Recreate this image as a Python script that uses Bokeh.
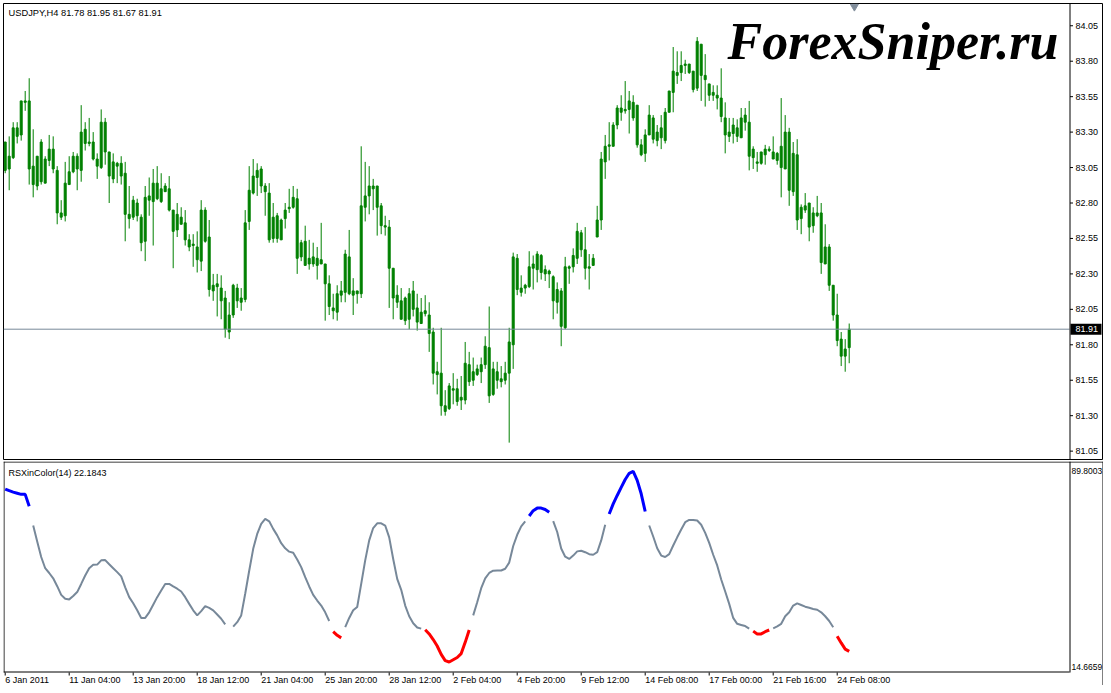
import numpy as np
from bokeh.plotting import figure
from bokeh.layouts import column
from bokeh.models import Range1d, Label, ColumnDataSource
from bokeh.embed import file_html
from bokeh.resources import INLINE
from bokeh.core.properties import value

# ---------------- data (USDJPY, H4) ----------------
open_ = [83.23, 83.04, 83.12, 83.27, 83.28, 83.52, 83.52, 82.93, 82.92, 83.23,
         82.94, 83.18, 83.18, 83.03, 82.70, 82.71, 82.93, 83.02, 83.04, 83.03,
         83.32, 83.23, 83.23, 83.06, 83.05, 83.37, 83.16, 82.97, 83.08, 83.08,
         83.01, 82.69, 82.82, 82.80, 82.52, 82.53, 82.82, 82.81, 82.94, 82.81,
         82.92, 82.90, 82.75, 82.61, 82.70, 82.66, 82.54, 82.51, 82.40, 82.39,
         82.75, 82.56, 82.18, 82.23, 82.20, 82.13, 81.89, 82.01, 82.20, 82.10,
         82.12, 82.67, 82.87, 83.03, 83.04, 82.92, 82.87, 82.70, 82.71, 82.54,
         82.69, 82.76, 82.84, 82.83, 82.52, 82.53, 82.37, 82.42, 82.36, 82.40,
         82.37, 82.23, 82.04, 82.03, 82.15, 82.17, 82.42, 82.18, 82.16, 82.16,
         82.77, 82.85, 82.92, 82.92, 82.78, 82.64, 82.63, 82.34, 82.15, 82.11,
         81.97, 81.98, 82.18, 82.06, 81.95, 82.04, 82.01, 81.89, 81.61, 81.60,
         81.33, 81.35, 81.49, 81.49, 81.41, 81.41, 81.66, 81.55, 81.59, 81.61,
         81.66, 81.78, 81.45, 81.61, 81.54, 81.55, 81.60, 81.80, 82.41, 82.17,
         82.20, 82.21, 82.34, 82.33, 82.43, 82.33, 82.32, 82.28, 82.19, 82.18,
         81.92, 82.34, 82.35, 82.41, 82.59, 82.47, 82.34, 82.36, 82.56, 82.68,
         83.09, 83.20, 83.20, 83.35, 83.47, 83.45, 83.46, 83.51, 83.49, 83.21,
         83.15, 83.28, 83.40, 83.24, 83.26, 83.24, 83.44, 83.58, 83.70, 83.72,
         83.77, 83.78, 83.73, 83.61, 83.92, 83.70, 83.64, 83.58, 83.56, 83.54,
         83.40, 83.27, 83.29, 83.33, 83.26, 83.37, 83.37, 83.18, 83.09, 83.08,
         83.14, 83.17, 83.16, 83.10, 83.05, 83.04, 83.30, 82.88, 83.14, 82.69,
         82.75, 82.80, 82.64, 82.73, 82.73, 82.37, 82.49, 82.22, 82.01, 81.84,
         81.72, 81.78]
high = [83.23, 83.27, 83.37, 83.37, 83.52, 83.59, 83.68, 83.32, 83.13, 83.25,
        83.13, 83.28, 83.27, 83.06, 82.82, 83.09, 83.13, 83.16, 83.15, 83.49,
        83.37, 83.40, 83.30, 83.15, 83.46, 83.40, 83.16, 83.15, 83.09, 83.13,
        83.09, 82.92, 82.85, 82.83, 82.72, 82.92, 82.98, 83.04, 83.06, 83.01,
        82.94, 82.99, 82.75, 82.80, 82.77, 82.75, 82.58, 82.58, 82.60, 82.82,
        82.77, 82.68, 82.30, 82.30, 82.29, 82.18, 82.10, 82.23, 82.23, 82.20,
        82.75, 83.06, 83.11, 83.08, 83.06, 82.94, 82.94, 82.80, 82.73, 82.69,
        82.80, 82.90, 82.92, 82.90, 82.54, 82.64, 82.54, 82.52, 82.49, 82.66,
        82.37, 82.29, 82.16, 82.22, 82.25, 82.47, 82.61, 82.27, 82.18, 83.20,
        83.09, 83.06, 82.97, 82.92, 82.80, 82.71, 82.68, 82.34, 82.22, 82.20,
        82.14, 82.20, 82.25, 82.16, 82.13, 82.15, 82.10, 81.92, 81.68, 81.92,
        81.48, 81.53, 81.60, 81.56, 81.58, 81.82, 81.75, 81.71, 81.66, 81.71,
        81.86, 82.07, 81.68, 81.68, 81.65, 81.68, 81.92, 82.45, 82.44, 82.29,
        82.23, 82.46, 82.43, 82.46, 82.44, 82.36, 82.33, 82.29, 82.24, 82.20,
        82.42, 82.36, 82.48, 82.66, 82.61, 82.63, 82.44, 82.44, 82.78, 83.16,
        83.28, 83.37, 83.37, 83.49, 83.56, 83.66, 83.59, 83.56, 83.49, 83.25,
        83.32, 83.49, 83.42, 83.35, 83.42, 83.47, 83.59, 83.90, 83.87, 83.87,
        83.81, 83.78, 83.73, 83.97, 83.92, 83.85, 83.64, 83.63, 83.63, 83.75,
        83.51, 83.40, 83.40, 83.39, 83.47, 83.47, 83.52, 83.20, 83.16, 83.16,
        83.21, 83.20, 83.27, 83.16, 83.54, 83.42, 83.33, 83.23, 83.25, 82.79,
        82.87, 82.80, 82.77, 82.85, 82.80, 82.65, 82.51, 82.22, 82.16, 81.89,
        81.84, 81.95]
low = [83.01, 82.89, 83.11, 83.22, 83.24, 83.45, 82.93, 82.84, 82.89, 82.93,
       82.94, 83.06, 83.01, 82.65, 82.68, 82.67, 82.93, 83.01, 82.89, 82.95,
       83.17, 83.20, 83.10, 82.97, 83.04, 83.07, 82.80, 82.94, 82.94, 82.93,
       82.53, 82.62, 82.68, 82.67, 82.46, 82.39, 82.71, 82.50, 82.82, 82.80,
       82.88, 82.74, 82.34, 82.56, 82.65, 82.50, 82.46, 82.35, 82.31, 82.32,
       82.52, 82.14, 82.11, 82.00, 81.98, 81.85, 81.84, 81.99, 82.06, 82.04,
       82.10, 82.61, 82.86, 82.85, 82.87, 82.71, 82.52, 82.52, 82.52, 82.54,
       82.62, 82.73, 82.76, 82.30, 82.39, 82.36, 82.33, 82.35, 82.26, 82.37,
       81.97, 82.01, 81.98, 81.97, 82.10, 82.10, 82.15, 82.01, 82.09, 82.13,
       82.67, 82.72, 82.75, 82.57, 82.58, 82.57, 82.06, 81.98, 82.06, 81.98,
       81.94, 81.91, 82.00, 81.90, 81.95, 82.00, 81.75, 81.52, 81.45, 81.30,
       81.30, 81.34, 81.38, 81.37, 81.34, 81.38, 81.51, 81.51, 81.58, 81.53,
       81.63, 81.39, 81.44, 81.49, 81.50, 81.52, 81.11, 81.63, 82.15, 82.14,
       82.16, 82.20, 82.19, 82.24, 82.26, 82.25, 82.20, 81.98, 82.02, 81.79,
       81.91, 82.23, 82.31, 82.37, 82.42, 82.26, 82.19, 82.36, 82.56, 82.61,
       82.97, 83.10, 83.20, 83.32, 83.38, 83.43, 83.29, 83.38, 83.19, 83.13,
       83.09, 83.28, 83.22, 83.20, 83.18, 83.22, 83.44, 83.44, 83.64, 83.66,
       83.71, 83.71, 83.58, 83.59, 83.52, 83.48, 83.52, 83.52, 83.46, 83.37,
       83.15, 83.23, 83.22, 83.23, 83.26, 83.31, 83.03, 83.04, 83.02, 83.07,
       83.07, 83.16, 83.11, 83.07, 82.84, 83.04, 82.78, 82.85, 82.61, 82.58,
       82.73, 82.53, 82.59, 82.70, 82.30, 82.37, 82.18, 81.97, 81.79, 81.65,
       81.61, 81.67]
close = [83.03, 83.13, 83.33, 83.33, 83.52, 83.51, 83.04, 83.06, 83.13, 82.95,
         83.11, 83.10, 83.04, 82.73, 82.73, 82.94, 83.02, 83.13, 83.13, 83.30,
         83.22, 83.22, 83.11, 83.11, 83.37, 83.16, 82.99, 83.09, 83.06, 82.99,
         82.72, 82.72, 82.70, 82.71, 82.70, 82.84, 82.85, 82.94, 82.83, 82.90,
         82.88, 82.75, 82.60, 82.72, 82.65, 82.54, 82.49, 82.50, 82.49, 82.75,
         82.53, 82.19, 82.22, 82.21, 82.11, 81.91, 82.01, 82.22, 82.11, 82.13,
         82.66, 82.89, 82.99, 82.98, 82.92, 82.88, 82.54, 82.55, 82.55, 82.68,
         82.75, 82.77, 82.77, 82.41, 82.42, 82.36, 82.41, 82.37, 82.41, 82.37,
         82.23, 82.07, 82.06, 82.16, 82.18, 82.44, 82.16, 82.15, 82.18, 82.78,
         82.85, 82.92, 82.90, 82.77, 82.64, 82.63, 82.34, 82.13, 82.10, 81.98,
         82.13, 82.16, 82.05, 81.96, 82.03, 82.02, 81.88, 81.60, 81.59, 81.37,
         81.37, 81.51, 81.48, 81.40, 81.43, 81.67, 81.54, 81.61, 81.63, 81.66,
         81.79, 81.44, 81.63, 81.55, 81.56, 81.60, 81.82, 82.42, 82.19, 82.20,
         82.22, 82.35, 82.37, 82.44, 82.31, 82.30, 82.30, 82.11, 82.10, 81.93,
         82.35, 82.35, 82.43, 82.60, 82.47, 82.34, 82.35, 82.41, 82.68, 83.11,
         83.20, 83.21, 83.35, 83.47, 83.44, 83.46, 83.52, 83.40, 83.21, 83.14,
         83.28, 83.42, 83.25, 83.30, 83.33, 83.44, 83.59, 83.73, 83.72, 83.77,
         83.78, 83.72, 83.60, 83.94, 83.70, 83.67, 83.56, 83.56, 83.54, 83.41,
         83.28, 83.30, 83.35, 83.27, 83.40, 83.42, 83.13, 83.12, 83.08, 83.16,
         83.18, 83.18, 83.11, 83.15, 83.20, 83.30, 82.89, 83.15, 82.68, 82.77,
         82.78, 82.63, 82.73, 82.71, 82.38, 82.49, 82.22, 82.01, 81.83, 81.72,
         81.77, 81.91]

# RSXinColor(14) values, one per bar
rsx = [80.0, 79.4, 78.9, 78.5, 78.1, 78.1, 73.9, 67.0, 61.3, 55.8,
       51.8, 50.1, 48.2, 45.4, 42.3, 40.9, 40.7, 41.9, 43.3, 46.2,
       49.2, 51.8, 53.0, 53.1, 54.6, 54.7, 53.2, 51.8, 50.4, 48.9,
       45.0, 41.5, 39.3, 36.8, 34.1, 34.1, 36.1, 38.8, 41.5, 43.9,
       46.2, 46.2, 45.3, 44.5, 43.5, 41.5, 39.1, 36.8, 35.0, 36.5,
       38.3, 37.7, 36.8, 35.3, 33.8, 31.8, 29.8, 31.0, 32.6, 35.0,
       42.7, 50.9, 58.7, 64.0, 67.6, 69.4, 68.5, 65.8, 63.5, 60.7,
       58.9, 57.7, 57.3, 54.9, 52.2, 48.6, 45.3, 42.3, 40.3, 38.5,
       36.1, 33.0, 29.2, 27.9, 27.0, 30.8, 34.1, 36.8, 38.0, 46.2,
       54.6, 61.7, 66.1, 67.8, 67.8, 67.0, 62.8, 55.1, 48.0, 44.1,
       38.5, 34.7, 32.2, 30.7, 30.3, 29.9, 28.4, 26.4, 24.1, 21.1,
       18.9, 18.4, 19.2, 20.0, 21.4, 25.4, 29.8, 35.0, 39.7, 44.7,
       48.2, 50.1, 50.9, 51.0, 51.0, 51.6, 53.8, 59.7, 63.7, 66.7,
       68.5, 70.4, 72.3, 73.2, 73.2, 72.7, 71.7, 68.6, 64.7, 58.8,
       55.9, 55.1, 56.3, 57.8, 58.0, 57.5, 56.8, 56.6, 57.5, 61.7,
       67.3, 71.1, 74.7, 77.7, 80.6, 83.4, 85.6, 86.3, 83.1, 78.3,
       72.0, 67.0, 63.1, 58.9, 56.3, 55.8, 56.8, 59.9, 62.8, 65.6,
       68.2, 69.0, 69.0, 68.8, 67.3, 64.4, 60.8, 56.6, 52.8, 47.8,
       43.5, 39.1, 34.1, 32.0, 31.6, 31.2, 30.3, 29.4, 28.4, 28.4,
       29.2, 29.8, 30.4, 31.1, 32.0, 34.7, 36.1, 38.5, 39.3, 38.7,
       38.1, 37.7, 37.3, 37.0, 36.1, 34.7, 33.0, 30.8, 27.6, 25.2,
       23.0, 22.1843]

symbol = "USDJPY,H4"
indicator_name = "RSXinColor(14)"
rsx_min, rsx_max = 14.6659, 89.8003
level_hi, level_lo = 70, 30

price_ticks = [81.05, 81.30, 81.55, 81.80, 82.05, 82.30, 82.55, 82.80,
               83.05, 83.30, 83.55, 83.80, 84.05]
time_tick_bars = [0, 16, 32, 48, 64, 80, 96, 112, 128, 144, 160, 176, 192, 208]
time_tick_labels = ["6 Jan 2011", "11 Jan 04:00", "13 Jan 20:00", "18 Jan 12:00",
                    "21 Jan 04:00", "25 Jan 20:00", "28 Jan 12:00", "2 Feb 04:00",
                    "4 Feb 20:00", "9 Feb 12:00", "14 Feb 08:00", "17 Feb 00:00",
                    "21 Feb 16:00", "24 Feb 08:00"]

# ---------------- layout / styling ----------------
FONT = "Liberation Sans"
GREEN = "#008000"
SLATE = "#778899"
PX_PER_BAR = 4.0
PX = 1.0 / PX_PER_BAR            # one pixel in bar units
PLOT_W, FRAME_W = 1066, 1100     # chart area / chart area + price scale
x_start = -0.425
x_end = x_start + FRAME_W / PX_PER_BAR
x_axis = x_start + PLOT_W / PX_PER_BAR   # position of the price scale line

n = len(close)
idx = np.arange(n)
o = np.array(open_); c = np.array(close)
xr = Range1d(x_start, x_end)

# ---------------- price panel ----------------
P_FRAME_H = 456
y_lo, y_hi = 80.991, 84.207
PY = (y_hi - y_lo) / P_FRAME_H   # one pixel in price units

p1 = figure(x_range=xr, y_range=Range1d(y_lo, y_hi),
            frame_width=FRAME_W, frame_height=P_FRAME_H,
            min_border_left=3, min_border_right=0, min_border_top=3, min_border_bottom=2,
            output_backend="svg", toolbar_location=None,
            x_axis_location=None, y_axis_location=None)
p1.grid.visible = False
p1.outline_line_color = "black"
p1.background_fill_color = "white"
p1.border_fill_color = "white"

src = ColumnDataSource(dict(x=idx, high=high, low=low,
                            top=np.maximum(o, c), bottom=np.minimum(o, c)))
p1.segment(x0="x", y0="low", x1="x", y1="high", source=src,
           line_color=GREEN, line_width=1)
p1.vbar(x="x", width=0.5, top="top", bottom="bottom", source=src,
        fill_color=GREEN, line_color=GREEN, line_width=1)

# bid line
p1.segment(x0=[x_start], y0=[close[-1]], x1=[x_axis], y1=[close[-1]],
           line_color=SLATE, line_width=1)

# price scale
ax_x = x_axis + 0.5 * PX
p1.segment(x0=[ax_x], y0=[y_lo], x1=[ax_x], y1=[y_hi], line_color="black", line_width=1)
p1.segment(x0=[ax_x] * len(price_ticks), y0=price_ticks,
           x1=[ax_x + 3 * PX] * len(price_ticks), y1=price_ticks,
           line_color="black", line_width=1)
p1.text(x=[x_axis + 6 * PX] * len(price_ticks), y=price_ticks,
        text=[f"{t:.2f}" for t in price_ticks],
        text_font=value(FONT), text_font_size="9px", text_color="black",
        text_align="left", text_baseline="middle")

# current price box
p1.rect(x=[x_axis + 16.5 * PX], y=[close[-1]], width=31, height=11,
        width_units="screen", height_units="screen",
        fill_color="black", line_color=None)
p1.text(x=[x_axis + 6 * PX], y=[close[-1]], text=[f"{close[-1]:.2f}"],
        text_font=value(FONT), text_font_size="9px", text_color="white",
        text_align="left", text_baseline="middle")

p1.add_layout(Label(x=x_start, y=y_hi, x_offset=5, y_offset=-9,
                    text=f"{symbol}  {open_[-1]:.2f} {high[-1]:.2f} {low[-1]:.2f} {close[-1]:.2f}",
                    text_font=FONT, text_font_size="9.3px", text_color="black",
                    text_align="left", text_baseline="middle"))

p1.add_layout(Label(x=180.6, y=83.94, text="ForexSniper.ru",
                    text_font="Liberation Serif", text_font_style="bold italic",
                    text_font_size="52px", text_color="black",
                    text_align="left", text_baseline="alphabetic"))

# chart-shift marker
p1.scatter(x=[n + 0.3], y=[y_hi - 3 * PY], marker="inverted_triangle", size=8,
           fill_color="#7f8c9a", line_color="#7f8c9a")

# ---------------- RSX panel ----------------
R_PLOT_H, R_FRAME_H = 211, 224
RU = (rsx_max - rsx_min) / R_PLOT_H      # one pixel in RSX units
r_lo = rsx_min - (R_FRAME_H - R_PLOT_H) * RU

p2 = figure(x_range=xr, y_range=Range1d(r_lo, rsx_max),
            frame_width=FRAME_W, frame_height=R_FRAME_H,
            min_border_left=3, min_border_right=0, min_border_top=0, min_border_bottom=0,
            output_backend="svg", toolbar_location=None,
            x_axis_location=None, y_axis_location=None)
p2.grid.visible = False
p2.outline_line_color = None
p2.background_fill_color = "white"
p2.border_fill_color = "white"

# panel frame lines
p2.segment(x0=[x_start, x_start + 0.5 * PX, x_start, ax_x, x_end - 0.5 * PX],
           y0=[rsx_max - 0.5 * RU, rsx_min, rsx_min + 0.5 * RU, rsx_min, r_lo],
           x1=[x_end, x_start + 0.5 * PX, x_axis, ax_x, x_end - 0.5 * PX],
           y1=[rsx_max - 0.5 * RU, rsx_max, rsx_min + 0.5 * RU, rsx_max, rsx_max],
           line_color="black", line_width=1)

# colored RSX line: one run per zone, broken where the zone changes
zone = ["blue" if v > level_hi else ("red" if v < level_lo else "gray") for v in rsx]
runs = {"gray": ([], []), "blue": ([], []), "red": ([], [])}
start = 0
for i in range(1, n + 1):
    if i == n or zone[i] != zone[start]:
        if i - start >= 2:
            runs[zone[start]][0].append([float(k) for k in idx[start:i]])
            runs[zone[start]][1].append(rsx[start:i])
        start = i
p2.multi_line(xs=runs["gray"][0], ys=runs["gray"][1], line_color=SLATE, line_width=2)
p2.multi_line(xs=runs["blue"][0], ys=runs["blue"][1], line_color="#0000ff", line_width=3)
p2.multi_line(xs=runs["red"][0], ys=runs["red"][1], line_color="#ff0000", line_width=3)

# time scale
p2.segment(x0=time_tick_bars, y0=[rsx_min] * len(time_tick_bars),
           x1=time_tick_bars, y1=[rsx_min - 3 * RU] * len(time_tick_bars),
           line_color="black", line_width=1)
p2.text(x=time_tick_bars, y=[rsx_min - 7 * RU] * len(time_tick_bars), text=time_tick_labels,
        text_font=value(FONT), text_font_size="9px", text_color="black",
        text_align="left", text_baseline="middle")

# indicator scale
p2.text(x=[x_axis + 2 * PX] * 2, y=[rsx_max - 9 * RU, rsx_min + 6 * RU],
        text=[f"{rsx_max:.4f}", f"{rsx_min:.4f}"],
        text_font=value(FONT), text_font_size="8.5px", text_color="black",
        text_align="left", text_baseline="middle")

p2.add_layout(Label(x=x_start, y=rsx_max, x_offset=5, y_offset=-11,
                    text=f"{indicator_name} {rsx[-1]:.4f}",
                    text_font=FONT, text_font_size="9px", text_color="black",
                    text_align="left", text_baseline="middle"))

layout = column(p1, p2, spacing=0)
open("out.html", "w").write(file_html(layout, INLINE))
